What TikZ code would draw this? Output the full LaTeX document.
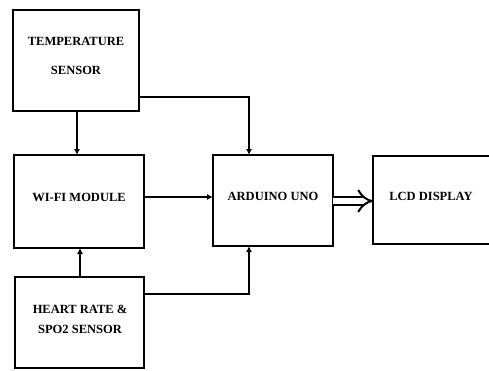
\documentclass[tikz,border=0pt]{standalone}
\usepackage{fontspec}
\setmainfont{Liberation Serif}
\usetikzlibrary{arrows.meta}
\begin{document}
\begin{tikzpicture}[x=1pt,y=-1pt,
  blk/.style={draw=black,line width=2pt,fill=white},
  lbl/.style={font=\bfseries\fontsize{12.5}{15}\selectfont,align=center,inner sep=0pt},
  con/.style={line width=2pt,-{Latex[length=6pt,width=6pt]}}]
\useasboundingbox (0,0) rectangle (489,370);
\clip (0,0) rectangle (489,370);
% boxes
\draw[blk] (13,10) rectangle (139,111);
\node[lbl] (temp) at (76,41) {TEMPERATURE};
\node[lbl] (temp2) at (76,70) {SENSOR};
\draw[blk] (14,155) rectangle (144,248);
\node[lbl] (wifi) at (79,197) {WI-FI MODULE};
\draw[blk] (213,155) rectangle (333,246);
\node[lbl] (ard) at (273,196) {ARDUINO UNO};
\draw[blk] (373,156) rectangle (500,244);
\node[lbl] (lcd) at (431,196) {LCD DISPLAY};
\draw[blk] (15,277) rectangle (144,368);
\node[lbl] (heart) at (80,309) {HEART RATE \&};
\node[lbl] (heart2) at (80,329) {SPO2 SENSOR};
% connectors
\coordinate (tb) at (77,111);
\coordinate (wt) at (77,155);
\draw[con] (tb) -- (wt);
\coordinate (tr) at (139,97);
\coordinate (at) at (249,155);
\draw[con] (tr) -| (at);
\coordinate (wr) at (144,197);
\coordinate (al) at (213,197);
\draw[con] (wr) -- (al);
\coordinate (ht) at (80,277);
\coordinate (wb) at (80,248);
\draw[con] (ht) -- (wb);
\coordinate (hr) at (144,294);
\coordinate (ab) at (249,246);
\draw[con] (hr) -| (ab);
\coordinate (ar) at (333,201);
\coordinate (ll) at (373,201);
\draw[line width=2pt,double=white,double distance=6pt,-{Implies[length=8pt]}] (ar) -- (ll);
\end{tikzpicture}
\end{document}
